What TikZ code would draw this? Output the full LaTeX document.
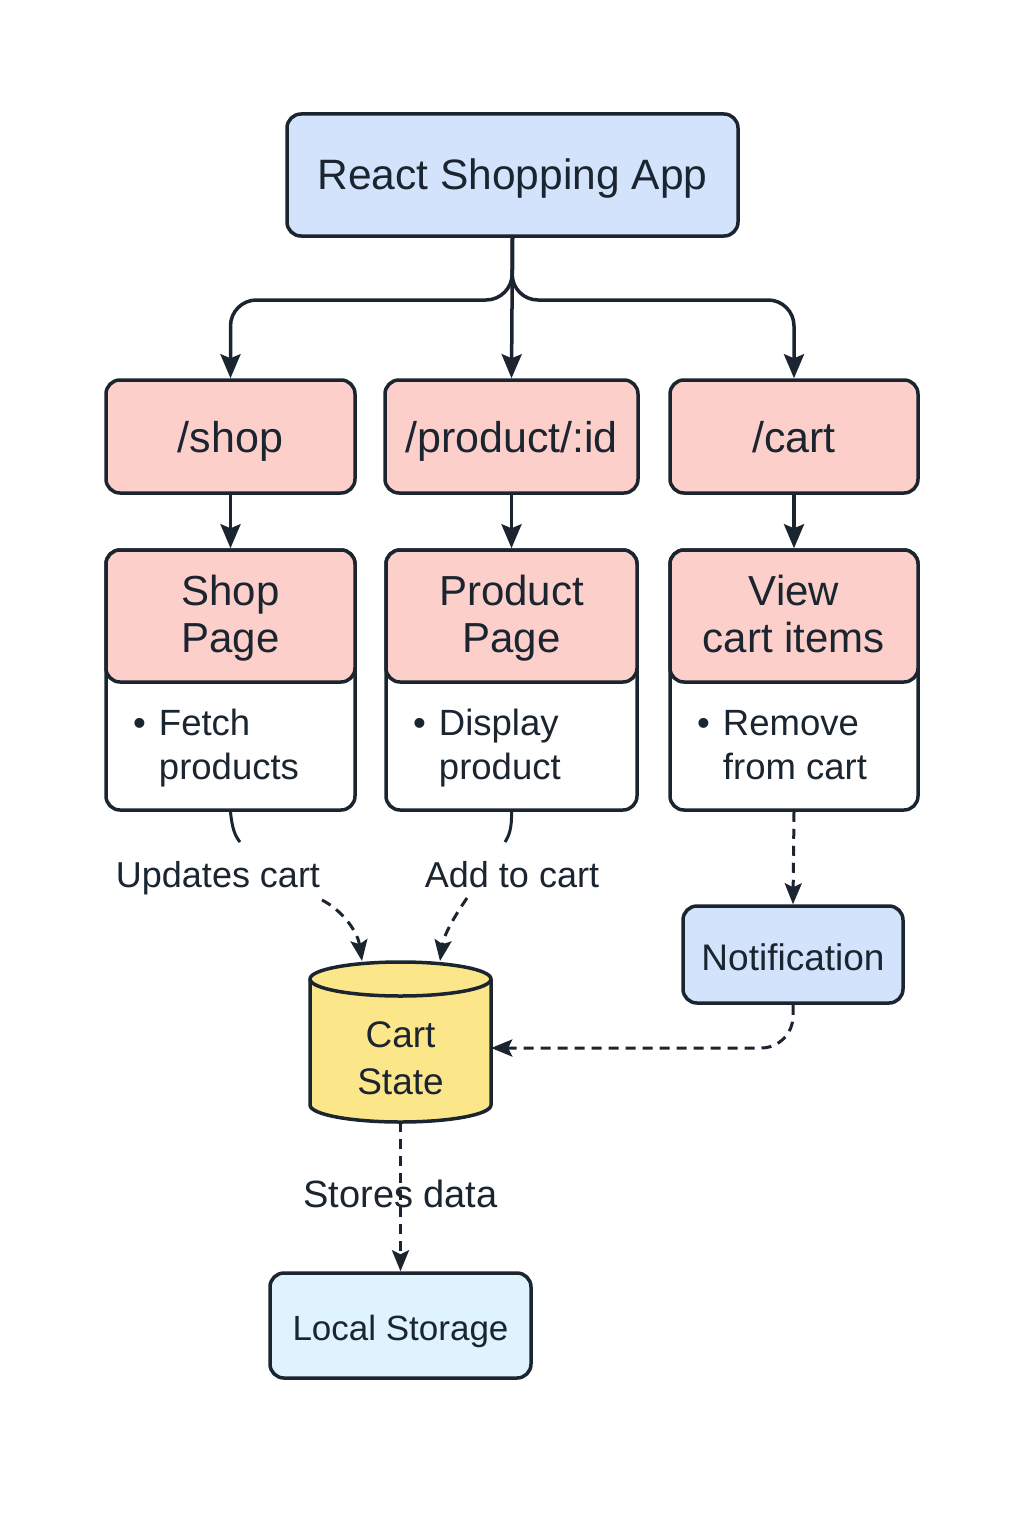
\documentclass[tikz,border=0pt]{standalone}
\usepackage{fontspec}
\setmainfont{Liberation Sans}
\usetikzlibrary{arrows.meta,calc}

\definecolor{inkdark}{RGB}{27,37,48}
\definecolor{appblue}{RGB}{211,227,252}
\definecolor{routepink}{RGB}{253,207,202}
\definecolor{cartyellow}{RGB}{252,230,138}
\definecolor{storeblue}{RGB}{222,243,253}

\tikzset{
  box/.style={draw=inkdark, line width=3.5pt, rounded corners=14pt, text=inkdark, align=center, inner sep=0pt},
  routebox/.style={box, fill=routepink, minimum height=113pt, text height=36pt, text depth=5pt, font=\fontsize{43}{48}\selectfont},
  pagebody/.style={box, fill=white, minimum height=260pt},
  pagehead/.style={box, fill=routepink, minimum height=132pt, font=\fontsize{42}{47}\selectfont},
  bullets/.style={anchor=west, align=left, text=inkdark, inner sep=0pt, font=\fontsize{36.5}{44}\selectfont},
  lbl/.style={text=inkdark, inner sep=0pt, text height=30pt, text depth=8pt, font=\fontsize{36}{42}\selectfont},
  link/.style={draw=inkdark, line width=3.5pt, -{Stealth[length=24pt,width=20pt,inset=4pt]}},
  dlink/.style={draw=inkdark, line width=3pt, dash pattern=on 10pt off 7pt, -{Stealth[length=21pt,width=17pt,inset=4pt]}},
  tail/.style={draw=inkdark, line width=3pt}
}

\newcommand{\bulletline}[2]{\textbullet\hspace{13pt}#1\\\hphantom{\textbullet\hspace{13pt}}#2\rule[-9pt]{0pt}{0pt}}
\newcommand{\twolines}[3]{\rule{0pt}{#3}#1\\#2}

\begin{document}
\begin{tikzpicture}[x=1pt, y=-1pt, line join=round]

\useasboundingbox[fill=white] (0,0) rectangle (1024,1536);

% app and routes
\node[box, fill=appblue, minimum width=451pt, minimum height=122pt, text height=34pt, text depth=6pt, font=\fontsize{42.5}{48}\selectfont] (app) at (512.5,175) {React Shopping App};

\node[routebox, minimum width=249pt] (shop) at (230.5,436.5) {/shop};
\node[routebox, minimum width=253pt] (product) at (511.5,436.5) {/product/:id};
\node[routebox, minimum width=248pt] (cartroute) at (794,436.5) {/cart};

\coordinate (fork) at (512,300);
\draw[link, rounded corners=26pt] (app.south) -- (fork) -| (shop.north);
\draw[link, rounded corners=26pt] (app.south) -- (fork) -| (cartroute.north);
\draw[link] (app.south) -- (product.north);

% pages
\node[pagebody, minimum width=249pt] (shopbody) at (230.5,680) {};
\node[pagehead, minimum width=249pt] (shophead) at (230.5,616) {\twolines{Shop}{Page}{34pt}};
\node[bullets] (shoptext) at (133,749) {\bulletline{Fetch}{products}};

\node[pagebody, minimum width=251pt] (productbody) at (511.5,680) {};
\node[pagehead, minimum width=251pt] (producthead) at (511.5,616) {\twolines{Product}{Page}{34pt}};
\node[bullets] (producttext) at (413,749) {\bulletline{Display}{product}};

\node[pagebody, minimum width=248pt] (viewbody) at (794,680) {};
\node[pagehead, minimum width=248pt] (viewhead) at (794,616) {\twolines{View}{cart items\rule[-9pt]{0pt}{0pt}}{34pt}};
\node[bullets] (viewtext) at (697,749) {\bulletline{Remove}{from cart}};

\draw[link] (shop.south) -- (shophead.north);
\draw[link] (product.south) -- (producthead.north);
\draw[link] (cartroute.south) -- (viewhead.north);

% cart state cylinder
\fill[cartyellow] (310,979) -- (310,1105) arc[start angle=180, end angle=0, x radius=90.5, y radius=17] -- (491,979) -- cycle;
\draw[inkdark, line width=3.5pt] (310,979) -- (310,1105) arc[start angle=180, end angle=0, x radius=90.5, y radius=17] -- (491,979);
\filldraw[fill=cartyellow, draw=inkdark, line width=3.5pt] (400.5,979) ellipse[x radius=90.5, y radius=17];
\node[text=inkdark, align=center, inner sep=0pt, minimum width=181pt, minimum height=148pt, font=\fontsize{37}{47}\selectfont] (cart) at (400.5,1048) {\twolines{Cart}{State}{47pt}};

\coordinate (cartin1) at (362,961);
\coordinate (cartin2) at (440,961);
\coordinate (updtail) at (240,842);
\coordinate (addtail) at (505,842);
\coordinate (updstart) at (322,900);
\coordinate (addstart) at (467,898);

\node[lbl] (updlbl) at (218,876) {Updates cart};
\node[lbl] (addlbl) at (512,876) {Add to cart};

\draw[tail] (shopbody.south) .. controls (232,828) and (235,836) .. (updtail);
\draw[tail] (productbody.south) .. controls (512,828) and (509,836) .. (addtail);
\draw[dlink] (updstart) .. controls (345,912) and (358,934) .. (cartin1);
\draw[dlink] (addstart) .. controls (456,914) and (444,934) .. (cartin2);

% notification
\node[box, fill=appblue, minimum width=220pt, minimum height=97pt, text height=35pt, text depth=4pt, font=\fontsize{37}{44}\selectfont] (notif) at (793,954.5) {Notification};
\draw[dlink] (viewbody.south) -- (notif.north);
\draw[dlink, rounded corners=32pt] (notif.south) -- (notif.south |- cart.east) -- (cart.east);

% storage
\node[box, fill=storeblue, minimum width=261pt, minimum height=105pt, text height=34pt, text depth=5pt, font=\fontsize{35}{42}\selectfont] (storage) at (400.5,1325.5) {Local Storage};
\draw[dlink] (cart.south) -- (storage.north) node[midway, lbl, font=\fontsize{38}{44}\selectfont] {Stores data};

\end{tikzpicture}
\end{document}
